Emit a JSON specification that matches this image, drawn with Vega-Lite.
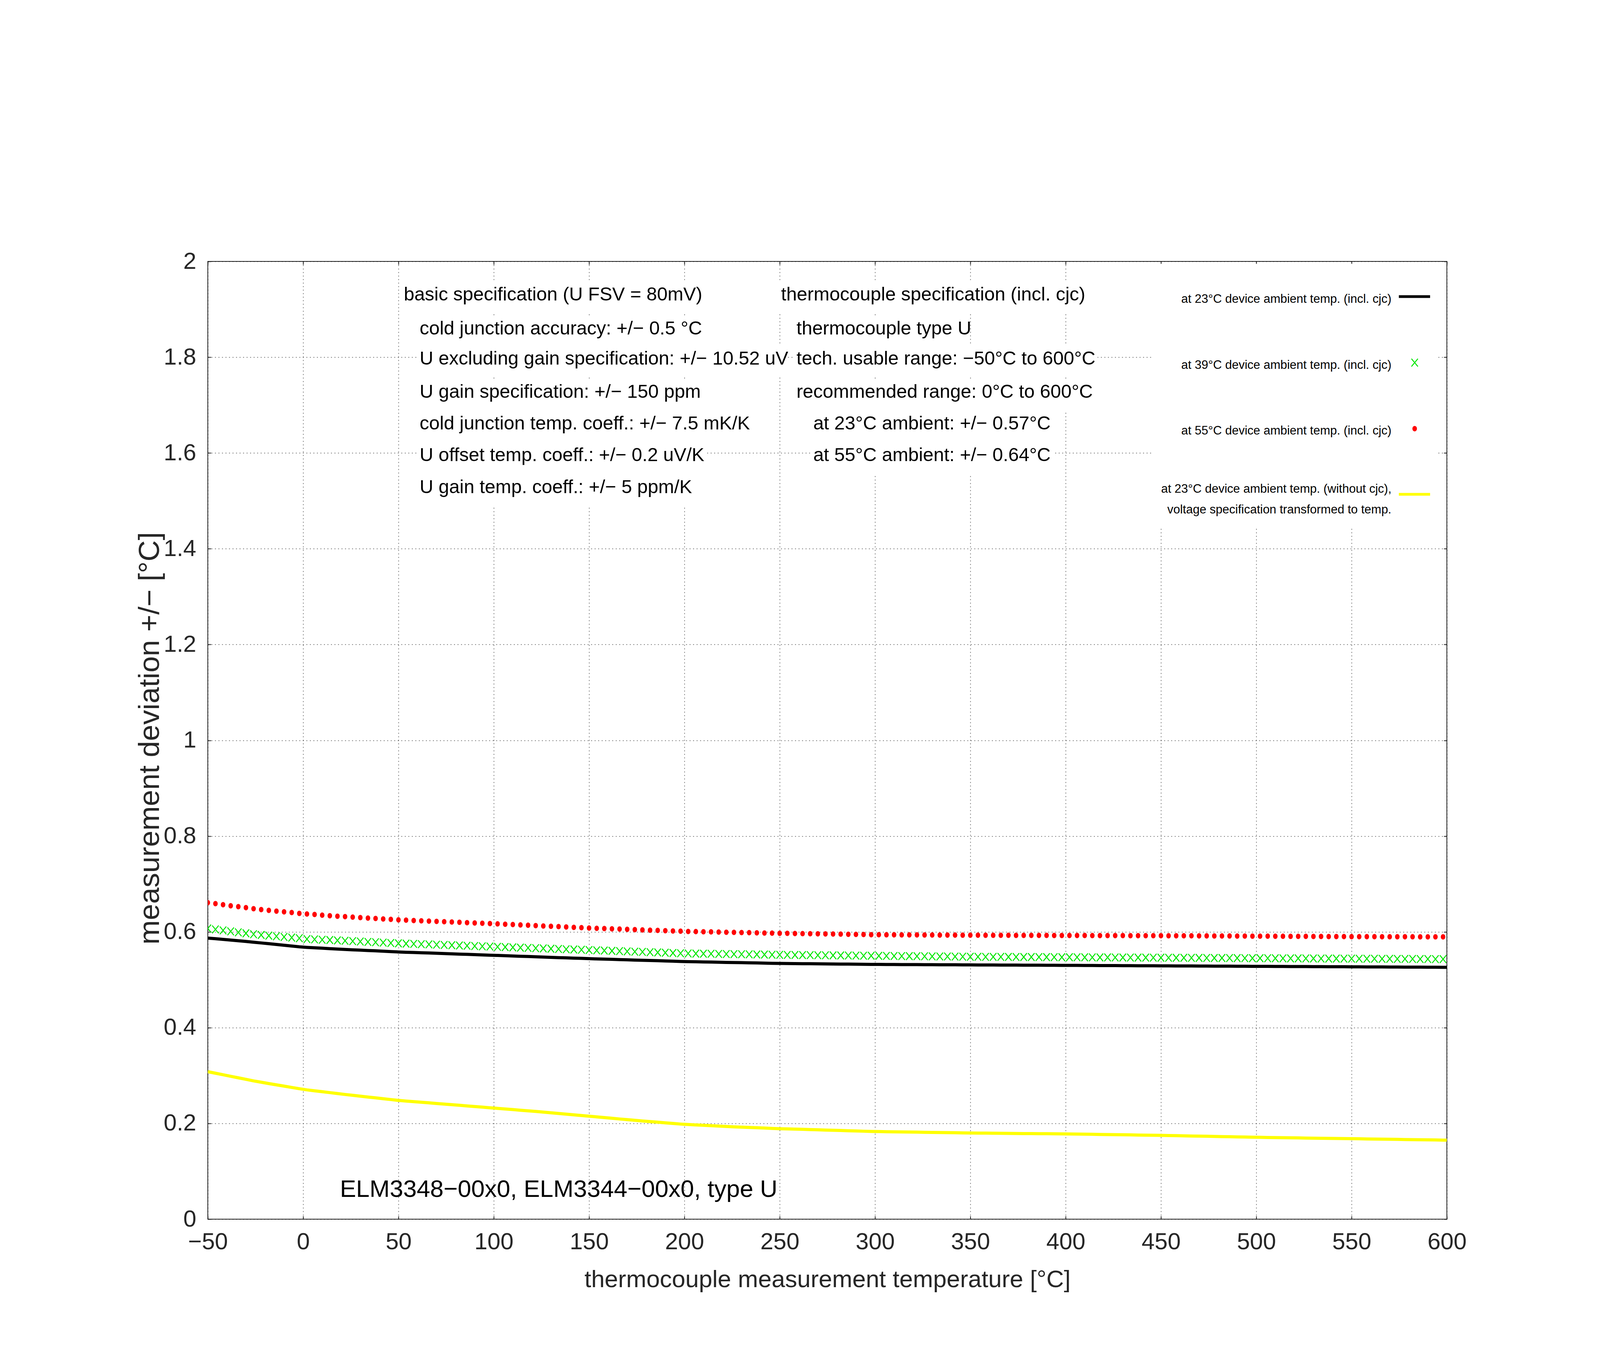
{
"$schema":"https://vega.github.io/schema/vega-lite/v6.json",
"width":3172,"height":2451,
"autosize":{"type":"none"},
"padding":{"left":532,"top":669,"right":392,"bottom":386},
"background":"white",
"config":{
 "view":{"stroke":"#222","strokeWidth":2},
 "text":{"font":"Liberation Sans"},
 "axis":{"labelFont":"Liberation Sans","labelFontSize":60,"labelColor":"#262626","titleFont":"Liberation Sans","titleFontSize":62,"titleFontWeight":"normal","titleColor":"#262626","tickColor":"#222","tickWidth":2,"tickSize":-8,"domain":false,"gridDash":[2,7],"gridColor":"#000","gridOpacity":0.85,"gridWidth":1.5,"labelFlush":false,"labelOverlap":false}
},
"datasets":{
"curves":[
{"t":-50,"a23":0.587,"a39":0.607,"a55":0.661,"u23":0.308},
{"t":-46,"a23":0.5856,"a39":0.605,"a55":0.659,"u23":0.3048},
{"t":-42,"a23":0.5842,"a39":0.603,"a55":0.6566,"u23":0.3016},
{"t":-38,"a23":0.5828,"a39":0.601,"a55":0.6544,"u23":0.2984},
{"t":-34,"a23":0.5814,"a39":0.599,"a55":0.6525,"u23":0.2952},
{"t":-30,"a23":0.58,"a39":0.597,"a55":0.6506,"u23":0.292},
{"t":-26,"a23":0.5784,"a39":0.5951,"a55":0.6484,"u23":0.2888},
{"t":-22,"a23":0.5768,"a39":0.5935,"a55":0.6465,"u23":0.286},
{"t":-18,"a23":0.5752,"a39":0.5921,"a55":0.6449,"u23":0.2832},
{"t":-14,"a23":0.5736,"a39":0.5908,"a55":0.6433,"u23":0.2805},
{"t":-10,"a23":0.572,"a39":0.5894,"a55":0.6417,"u23":0.2778},
{"t":-6,"a23":0.5704,"a39":0.588,"a55":0.6403,"u23":0.2751},
{"t":-2,"a23":0.5688,"a39":0.5867,"a55":0.6386,"u23":0.2724},
{"t":2,"a23":0.5676,"a39":0.5848,"a55":0.6373,"u23":0.27},
{"t":6,"a23":0.5667,"a39":0.5842,"a55":0.6362,"u23":0.2681},
{"t":10,"a23":0.5658,"a39":0.5834,"a55":0.6348,"u23":0.2662},
{"t":14,"a23":0.5649,"a39":0.5829,"a55":0.6337,"u23":0.2643},
{"t":18,"a23":0.564,"a39":0.5821,"a55":0.6327,"u23":0.2624},
{"t":22,"a23":0.5633,"a39":0.5814,"a55":0.6318,"u23":0.2604},
{"t":26,"a23":0.5625,"a39":0.5806,"a55":0.6308,"u23":0.2586},
{"t":30,"a23":0.5618,"a39":0.5798,"a55":0.6298,"u23":0.2568},
{"t":34,"a23":0.561,"a39":0.579,"a55":0.6288,"u23":0.255},
{"t":38,"a23":0.5603,"a39":0.5783,"a55":0.6279,"u23":0.2533},
{"t":42,"a23":0.5595,"a39":0.5775,"a55":0.6269,"u23":0.2515},
{"t":46,"a23":0.5588,"a39":0.5767,"a55":0.626,"u23":0.2498},
{"t":50,"a23":0.558,"a39":0.576,"a55":0.625,"u23":0.248},
{"t":54,"a23":0.5574,"a39":0.5754,"a55":0.6244,"u23":0.2467},
{"t":58,"a23":0.5569,"a39":0.5749,"a55":0.6237,"u23":0.2454},
{"t":62,"a23":0.5563,"a39":0.5743,"a55":0.6231,"u23":0.2442},
{"t":66,"a23":0.5558,"a39":0.5738,"a55":0.6224,"u23":0.2429},
{"t":70,"a23":0.5552,"a39":0.5732,"a55":0.6218,"u23":0.2416},
{"t":74,"a23":0.5546,"a39":0.5726,"a55":0.6212,"u23":0.2403},
{"t":78,"a23":0.5541,"a39":0.5721,"a55":0.6205,"u23":0.239},
{"t":82,"a23":0.5535,"a39":0.5715,"a55":0.6199,"u23":0.2378},
{"t":86,"a23":0.553,"a39":0.571,"a55":0.6192,"u23":0.2365},
{"t":90,"a23":0.5524,"a39":0.5704,"a55":0.6186,"u23":0.2352},
{"t":94,"a23":0.5518,"a39":0.5698,"a55":0.618,"u23":0.2339},
{"t":98,"a23":0.5513,"a39":0.5693,"a55":0.6173,"u23":0.2326},
{"t":102,"a23":0.5507,"a39":0.5687,"a55":0.6166,"u23":0.2314},
{"t":106,"a23":0.5502,"a39":0.5682,"a55":0.6159,"u23":0.2301},
{"t":110,"a23":0.5496,"a39":0.5676,"a55":0.6152,"u23":0.2288},
{"t":114,"a23":0.549,"a39":0.567,"a55":0.6145,"u23":0.2275},
{"t":118,"a23":0.5485,"a39":0.5665,"a55":0.6138,"u23":0.2262},
{"t":122,"a23":0.5479,"a39":0.5659,"a55":0.613,"u23":0.225},
{"t":126,"a23":0.5474,"a39":0.5654,"a55":0.6123,"u23":0.2236},
{"t":130,"a23":0.5468,"a39":0.5648,"a55":0.6116,"u23":0.2222},
{"t":134,"a23":0.5462,"a39":0.5642,"a55":0.6109,"u23":0.2208},
{"t":138,"a23":0.5457,"a39":0.5637,"a55":0.6102,"u23":0.2193},
{"t":142,"a23":0.5451,"a39":0.5631,"a55":0.6094,"u23":0.2179},
{"t":146,"a23":0.5446,"a39":0.5626,"a55":0.6087,"u23":0.2164},
{"t":150,"a23":0.544,"a39":0.562,"a55":0.608,"u23":0.215},
{"t":154,"a23":0.5435,"a39":0.5614,"a55":0.6074,"u23":0.2136},
{"t":158,"a23":0.543,"a39":0.5609,"a55":0.6069,"u23":0.2121},
{"t":162,"a23":0.5426,"a39":0.5603,"a55":0.6063,"u23":0.2107},
{"t":166,"a23":0.5421,"a39":0.5598,"a55":0.6058,"u23":0.2092},
{"t":170,"a23":0.5416,"a39":0.5592,"a55":0.6052,"u23":0.2078},
{"t":174,"a23":0.5411,"a39":0.5586,"a55":0.6046,"u23":0.2064},
{"t":178,"a23":0.5406,"a39":0.5581,"a55":0.6041,"u23":0.205},
{"t":182,"a23":0.5402,"a39":0.5575,"a55":0.6035,"u23":0.2038},
{"t":186,"a23":0.5397,"a39":0.557,"a55":0.603,"u23":0.2025},
{"t":190,"a23":0.5392,"a39":0.5564,"a55":0.6024,"u23":0.2012},
{"t":194,"a23":0.5387,"a39":0.5558,"a55":0.6018,"u23":0.1999},
{"t":198,"a23":0.5382,"a39":0.5553,"a55":0.6013,"u23":0.1986},
{"t":202,"a23":0.5378,"a39":0.5549,"a55":0.6008,"u23":0.1976},
{"t":206,"a23":0.5375,"a39":0.5546,"a55":0.6005,"u23":0.1968},
{"t":210,"a23":0.5372,"a39":0.5544,"a55":0.6002,"u23":0.196},
{"t":214,"a23":0.5369,"a39":0.5542,"a55":0.5999,"u23":0.1952},
{"t":218,"a23":0.5366,"a39":0.5539,"a55":0.5996,"u23":0.1944},
{"t":222,"a23":0.5362,"a39":0.5537,"a55":0.5992,"u23":0.1936},
{"t":226,"a23":0.5359,"a39":0.5534,"a55":0.5989,"u23":0.1928},
{"t":230,"a23":0.5356,"a39":0.5532,"a55":0.5986,"u23":0.1922},
{"t":234,"a23":0.5353,"a39":0.553,"a55":0.5983,"u23":0.1916},
{"t":238,"a23":0.535,"a39":0.5527,"a55":0.598,"u23":0.1909},
{"t":242,"a23":0.5346,"a39":0.5525,"a55":0.5976,"u23":0.1903},
{"t":246,"a23":0.5343,"a39":0.5522,"a55":0.5973,"u23":0.1896},
{"t":250,"a23":0.534,"a39":0.552,"a55":0.597,"u23":0.189},
{"t":254,"a23":0.5338,"a39":0.5518,"a55":0.5968,"u23":0.1885},
{"t":258,"a23":0.5337,"a39":0.5517,"a55":0.5965,"u23":0.188},
{"t":262,"a23":0.5335,"a39":0.5515,"a55":0.5963,"u23":0.1876},
{"t":266,"a23":0.5334,"a39":0.5514,"a55":0.596,"u23":0.1871},
{"t":270,"a23":0.5332,"a39":0.5512,"a55":0.5958,"u23":0.1866},
{"t":274,"a23":0.533,"a39":0.551,"a55":0.5956,"u23":0.1861},
{"t":278,"a23":0.5329,"a39":0.5509,"a55":0.5954,"u23":0.1856},
{"t":282,"a23":0.5327,"a39":0.5507,"a55":0.5952,"u23":0.1852},
{"t":286,"a23":0.5326,"a39":0.5506,"a55":0.5949,"u23":0.1847},
{"t":290,"a23":0.5324,"a39":0.5504,"a55":0.5946,"u23":0.1842},
{"t":294,"a23":0.5322,"a39":0.5502,"a55":0.5944,"u23":0.1837},
{"t":298,"a23":0.5321,"a39":0.5501,"a55":0.5941,"u23":0.1832},
{"t":302,"a23":0.532,"a39":0.5499,"a55":0.594,"u23":0.1829},
{"t":306,"a23":0.5319,"a39":0.5498,"a55":0.5939,"u23":0.1826},
{"t":310,"a23":0.5318,"a39":0.5496,"a55":0.5938,"u23":0.1824},
{"t":314,"a23":0.5317,"a39":0.5494,"a55":0.5937,"u23":0.1822},
{"t":318,"a23":0.5316,"a39":0.5493,"a55":0.5936,"u23":0.1819},
{"t":322,"a23":0.5316,"a39":0.5491,"a55":0.5936,"u23":0.1817},
{"t":326,"a23":0.5315,"a39":0.549,"a55":0.5935,"u23":0.1814},
{"t":330,"a23":0.5314,"a39":0.5488,"a55":0.5934,"u23":0.1812},
{"t":334,"a23":0.5313,"a39":0.5486,"a55":0.5933,"u23":0.181},
{"t":338,"a23":0.5312,"a39":0.5485,"a55":0.5932,"u23":0.1807},
{"t":342,"a23":0.5312,"a39":0.5483,"a55":0.5932,"u23":0.1805},
{"t":346,"a23":0.5311,"a39":0.5482,"a55":0.5931,"u23":0.1802},
{"t":350,"a23":0.531,"a39":0.548,"a55":0.593,"u23":0.18},
{"t":354,"a23":0.5309,"a39":0.5479,"a55":0.593,"u23":0.1798},
{"t":358,"a23":0.5308,"a39":0.5478,"a55":0.5929,"u23":0.1797},
{"t":362,"a23":0.5308,"a39":0.5478,"a55":0.5929,"u23":0.1795},
{"t":366,"a23":0.5307,"a39":0.5477,"a55":0.5928,"u23":0.1794},
{"t":370,"a23":0.5306,"a39":0.5476,"a55":0.5928,"u23":0.1792},
{"t":374,"a23":0.5305,"a39":0.5475,"a55":0.5927,"u23":0.179},
{"t":378,"a23":0.5304,"a39":0.5474,"a55":0.5927,"u23":0.1788},
{"t":382,"a23":0.5304,"a39":0.5474,"a55":0.5927,"u23":0.1787},
{"t":386,"a23":0.5303,"a39":0.5473,"a55":0.5926,"u23":0.1785},
{"t":390,"a23":0.5302,"a39":0.5472,"a55":0.5926,"u23":0.1784},
{"t":394,"a23":0.5301,"a39":0.5471,"a55":0.5925,"u23":0.1782},
{"t":398,"a23":0.53,"a39":0.547,"a55":0.5925,"u23":0.1781},
{"t":402,"a23":0.53,"a39":0.547,"a55":0.5925,"u23":0.1779},
{"t":406,"a23":0.5299,"a39":0.5469,"a55":0.5924,"u23":0.1776},
{"t":410,"a23":0.5298,"a39":0.5468,"a55":0.5924,"u23":0.1774},
{"t":414,"a23":0.5297,"a39":0.5467,"a55":0.5923,"u23":0.1772},
{"t":418,"a23":0.5296,"a39":0.5466,"a55":0.5923,"u23":0.1769},
{"t":422,"a23":0.5296,"a39":0.5466,"a55":0.5923,"u23":0.1767},
{"t":426,"a23":0.5295,"a39":0.5465,"a55":0.5922,"u23":0.1764},
{"t":430,"a23":0.5294,"a39":0.5464,"a55":0.5922,"u23":0.1762},
{"t":434,"a23":0.5293,"a39":0.5463,"a55":0.5921,"u23":0.176},
{"t":438,"a23":0.5292,"a39":0.5462,"a55":0.5921,"u23":0.1757},
{"t":442,"a23":0.5292,"a39":0.5462,"a55":0.5921,"u23":0.1755},
{"t":446,"a23":0.5291,"a39":0.5461,"a55":0.592,"u23":0.1752},
{"t":450,"a23":0.529,"a39":0.546,"a55":0.592,"u23":0.175},
{"t":454,"a23":0.5289,"a39":0.5459,"a55":0.5919,"u23":0.1747},
{"t":458,"a23":0.5288,"a39":0.5458,"a55":0.5918,"u23":0.1744},
{"t":462,"a23":0.5288,"a39":0.5458,"a55":0.5918,"u23":0.174},
{"t":466,"a23":0.5287,"a39":0.5457,"a55":0.5917,"u23":0.1737},
{"t":470,"a23":0.5286,"a39":0.5456,"a55":0.5916,"u23":0.1734},
{"t":474,"a23":0.5285,"a39":0.5455,"a55":0.5915,"u23":0.1731},
{"t":478,"a23":0.5284,"a39":0.5454,"a55":0.5914,"u23":0.1728},
{"t":482,"a23":0.5284,"a39":0.5454,"a55":0.5914,"u23":0.1724},
{"t":486,"a23":0.5283,"a39":0.5453,"a55":0.5913,"u23":0.1721},
{"t":490,"a23":0.5282,"a39":0.5452,"a55":0.5912,"u23":0.1718},
{"t":494,"a23":0.5281,"a39":0.5451,"a55":0.5911,"u23":0.1715},
{"t":498,"a23":0.528,"a39":0.545,"a55":0.591,"u23":0.1712},
{"t":502,"a23":0.528,"a39":0.545,"a55":0.591,"u23":0.1709},
{"t":506,"a23":0.5279,"a39":0.5449,"a55":0.5909,"u23":0.1706},
{"t":510,"a23":0.5278,"a39":0.5448,"a55":0.5908,"u23":0.1704},
{"t":514,"a23":0.5277,"a39":0.5447,"a55":0.5907,"u23":0.1702},
{"t":518,"a23":0.5276,"a39":0.5446,"a55":0.5906,"u23":0.1699},
{"t":522,"a23":0.5276,"a39":0.5446,"a55":0.5906,"u23":0.1697},
{"t":526,"a23":0.5275,"a39":0.5445,"a55":0.5905,"u23":0.1694},
{"t":530,"a23":0.5274,"a39":0.5444,"a55":0.5904,"u23":0.1692},
{"t":534,"a23":0.5273,"a39":0.5443,"a55":0.5903,"u23":0.169},
{"t":538,"a23":0.5272,"a39":0.5442,"a55":0.5902,"u23":0.1687},
{"t":542,"a23":0.5272,"a39":0.5442,"a55":0.5902,"u23":0.1685},
{"t":546,"a23":0.5271,"a39":0.5441,"a55":0.5901,"u23":0.1682},
{"t":550,"a23":0.527,"a39":0.544,"a55":0.59,"u23":0.168},
{"t":554,"a23":0.5269,"a39":0.5439,"a55":0.59,"u23":0.1678},
{"t":558,"a23":0.5268,"a39":0.5438,"a55":0.5899,"u23":0.1675},
{"t":562,"a23":0.5268,"a39":0.5438,"a55":0.5899,"u23":0.1673},
{"t":566,"a23":0.5267,"a39":0.5437,"a55":0.5898,"u23":0.167},
{"t":570,"a23":0.5266,"a39":0.5436,"a55":0.5898,"u23":0.1668},
{"t":574,"a23":0.5265,"a39":0.5435,"a55":0.5897,"u23":0.1666},
{"t":578,"a23":0.5264,"a39":0.5434,"a55":0.5897,"u23":0.1663},
{"t":582,"a23":0.5264,"a39":0.5434,"a55":0.5897,"u23":0.1661},
{"t":586,"a23":0.5263,"a39":0.5433,"a55":0.5896,"u23":0.1658},
{"t":590,"a23":0.5262,"a39":0.5432,"a55":0.5896,"u23":0.1656},
{"t":594,"a23":0.5261,"a39":0.5431,"a55":0.5895,"u23":0.1654},
{"t":598,"a23":0.526,"a39":0.543,"a55":0.5895,"u23":0.1651},
{"t":600,"a23":0.526,"a39":null,"a55":null,"u23":0.165}
],
"notes":[
{"s":"basic specification (U FSV = 80mV)","t":52.8,"t2":206.7,"v":1.9184},
{"s":"cold junction accuracy: +/− 0.5 °C","t":61.1,"t2":208.0,"v":1.8474},
{"s":"U excluding gain specification: +/− 10.52 uV","t":61.1,"t2":251.4,"v":1.7846},
{"s":"U gain specification: +/− 150 ppm","t":61.1,"t2":207.2,"v":1.7152},
{"s":"cold junction temp. coeff.: +/− 7.5 mK/K","t":61.1,"t2":233.3,"v":1.6491},
{"s":"U offset temp. coeff.: +/− 0.2 uV/K","t":61.1,"t2":209.7,"v":1.583},
{"s":"U gain temp. coeff.: +/− 5 ppm/K","t":61.1,"t2":203.0,"v":1.5161},
{"s":"thermocouple specification (incl. cjc)","t":250.7,"t2":408.5,"v":1.9184},
{"s":"thermocouple type U","t":258.8,"t2":348.2,"v":1.8474},
{"s":"tech. usable range: −50°C to 600°C","t":258.8,"t2":415.3,"v":1.7846},
{"s":"recommended range: 0°C to 600°C","t":258.8,"t2":414.1,"v":1.7152},
{"s":"at 23°C ambient: +/− 0.57°C","t":267.6,"t2":391.8,"v":1.6491},
{"s":"at 55°C ambient: +/− 0.64°C","t":267.6,"t2":391.8,"v":1.583}
],
"keys":[
{"s":"at 23°C device ambient temp. (incl. cjc)","t":570.9,"v":1.9135},
{"s":"at 39°C device ambient temp. (incl. cjc)","t":570.9,"v":1.7756},
{"s":"at 55°C device ambient temp. (incl. cjc)","t":570.9,"v":1.6385},
{"s":"at 23°C device ambient temp. (without cjc),","t":570.9,"v":1.5169},
{"s":"voltage specification transformed to temp.","t":570.9,"v":1.4737}
]
},
"layer":[
{"data":{"name":"curves"},
 "mark":{"type":"line","color":"#000000","strokeWidth":8,"clip":true},
 "encoding":{
  "x":{"field":"t","type":"quantitative","scale":{"domain":[-50,600],"nice":false,"zero":false},
   "axis":{"orient":"bottom","values":[-50,0,50,100,150,200,250,300,350,400,450,500,550,600],"grid":true,"labelPadding":37,"title":"thermocouple measurement temperature [°C]","titleBaseline":"alphabetic","titleX":1586,"titleY":173,"titleAlign":"center","titleAnchor":null}},
  "y":{"field":"a23","type":"quantitative","scale":{"domain":[0,2],"nice":false,"zero":false},
   "axis":{"orient":"left","values":[0,0.2,0.4,0.6,0.8,1,1.2,1.4,1.6,1.8,2],"format":"~g","grid":true,"labelPadding":38,"title":"measurement deviation +/− [°C]","titleFontSize":75,"titleAngle":270,"titleBaseline":"alphabetic","titleX":-126,"titleY":1220,"titleAlign":"center","titleAnchor":null}}
 }},
{"data":{"name":"curves"},
 "mark":{"type":"line","color":"#ffff00","strokeWidth":8,"clip":true},
 "encoding":{
  "x":{"field":"t","type":"quantitative","scale":{"domain":[-50,600],"nice":false,"zero":false},"axis":null},
  "y":{"field":"u23","type":"quantitative","scale":{"domain":[0,2],"nice":false,"zero":false},"axis":null}
 }},
{"data":{"name":"curves"},
 "mark":{"type":"point","shape":"M-0.826,-1L0.826,1M0.826,-1L-0.826,1","filled":false,"stroke":"#00e600","strokeWidth":2.5,"size":400,"opacity":1,"clip":true},
 "encoding":{
  "x":{"field":"t","type":"quantitative","scale":{"domain":[-50,600],"nice":false,"zero":false},"axis":null},
  "y":{"field":"a39","type":"quantitative","scale":{"domain":[0,2],"nice":false,"zero":false},"axis":null}
 }},
{"data":{"name":"curves"},
 "mark":{"type":"point","shape":"M-0.826,0A0.826,1,0,1,1,0.826,0A0.826,1,0,1,1,-0.826,0Z","filled":true,"color":"#ff0000","strokeWidth":0,"size":196,"opacity":1,"clip":true},
 "encoding":{
  "x":{"field":"t","type":"quantitative","scale":{"domain":[-50,600],"nice":false,"zero":false},
   "axis":{"orient":"top","values":[-50,0,50,100,150,200,250,300,350,400,450,500,550,600],"labels":false,"grid":false,"title":null}},
  "y":{"field":"a55","type":"quantitative","scale":{"domain":[0,2],"nice":false,"zero":false},
   "axis":{"orient":"right","values":[0,0.2,0.4,0.6,0.8,1,1.2,1.4,1.6,1.8,2],"labels":false,"grid":false,"title":null}}
 }},
{"data":{"name":"notes"},
 "mark":{"type":"rect","fill":"#ffffff","xOffset":-7,"x2Offset":7,"yOffset":32,"y2Offset":-48},
 "encoding":{
  "x":{"field":"t","type":"quantitative","scale":{"domain":[-50,600],"nice":false,"zero":false},"axis":null},
  "x2":{"field":"t2"},
  "y":{"field":"v","type":"quantitative","scale":{"domain":[0,2],"nice":false,"zero":false},"axis":null},
  "y2":{"field":"v"}
 }},
{"data":{"name":"notes"},
 "mark":{"type":"text","align":"left","baseline":"alphabetic","fontSize":48.5,"font":"Liberation Sans","color":"#000000"},
 "encoding":{
  "x":{"field":"t","type":"quantitative","scale":{"domain":[-50,600],"nice":false,"zero":false},"axis":null},
  "y":{"field":"v","type":"quantitative","scale":{"domain":[0,2],"nice":false,"zero":false},"axis":null},
  "text":{"field":"s"}
 }},
{"data":{"values":[{"s":"ELM3348−00x0, ELM3344−00x0, type U","t":19.3,"v":0.0465}]},
 "mark":{"type":"text","align":"left","baseline":"alphabetic","fontSize":62,"font":"Liberation Sans","color":"#000000"},
 "encoding":{
  "x":{"field":"t","type":"quantitative","scale":{"domain":[-50,600],"nice":false,"zero":false},"axis":null},
  "y":{"field":"v","type":"quantitative","scale":{"domain":[0,2],"nice":false,"zero":false},"axis":null},
  "text":{"field":"s"}
 }},
{"data":{"values":[{}]},
 "mark":{"type":"rect","fill":"#ffffff"},
 "encoding":{
  "x":{"datum":445.4,"type":"quantitative","scale":{"domain":[-50,600],"nice":false,"zero":false},"axis":null},
  "x2":{"datum":594.5},
  "y":{"datum":1.445,"type":"quantitative","scale":{"domain":[0,2],"nice":false,"zero":false},"axis":null},
  "y2":{"datum":1.995}
 }},
{"data":{"name":"keys"},
 "mark":{"type":"text","align":"right","baseline":"alphabetic","fontSize":31,"font":"Liberation Sans","color":"#000000"},
 "encoding":{
  "x":{"field":"t","type":"quantitative","scale":{"domain":[-50,600],"nice":false,"zero":false},"axis":null},
  "y":{"field":"v","type":"quantitative","scale":{"domain":[0,2],"nice":false,"zero":false},"axis":null},
  "text":{"field":"s"}
 }},
{"data":{"values":[{}]},
 "mark":{"type":"rule","color":"#000000","strokeWidth":7},
 "encoding":{
  "x":{"datum":574.8,"type":"quantitative","scale":{"domain":[-50,600],"nice":false,"zero":false},"axis":null},
  "x2":{"datum":591.2},
  "y":{"datum":1.9266,"type":"quantitative","scale":{"domain":[0,2],"nice":false,"zero":false},"axis":null}
 }},
{"data":{"values":[{}]},
 "mark":{"type":"rule","color":"#ffff00","strokeWidth":7},
 "encoding":{
  "x":{"datum":574.8,"type":"quantitative","scale":{"domain":[-50,600],"nice":false,"zero":false},"axis":null},
  "x2":{"datum":591.2},
  "y":{"datum":1.5137,"type":"quantitative","scale":{"domain":[0,2],"nice":false,"zero":false},"axis":null}
 }},
{"data":{"values":[{}]},
 "mark":{"type":"point","shape":"M-0.826,-1L0.826,1M0.826,-1L-0.826,1","filled":false,"stroke":"#00e600","strokeWidth":2.5,"size":400,"opacity":1},
 "encoding":{
  "x":{"datum":583.1,"type":"quantitative","scale":{"domain":[-50,600],"nice":false,"zero":false},"axis":null},
  "y":{"datum":1.7887,"type":"quantitative","scale":{"domain":[0,2],"nice":false,"zero":false},"axis":null}
 }},
{"data":{"values":[{}]},
 "mark":{"type":"point","shape":"M-0.826,0A0.826,1,0,1,1,0.826,0A0.826,1,0,1,1,-0.826,0Z","filled":true,"color":"#ff0000","strokeWidth":0,"size":196,"opacity":1},
 "encoding":{
  "x":{"datum":583.1,"type":"quantitative","scale":{"domain":[-50,600],"nice":false,"zero":false},"axis":null},
  "y":{"datum":1.6508,"type":"quantitative","scale":{"domain":[0,2],"nice":false,"zero":false},"axis":null}
 }}
],
"resolve":{"axis":{"x":"independent","y":"independent"}}
}
